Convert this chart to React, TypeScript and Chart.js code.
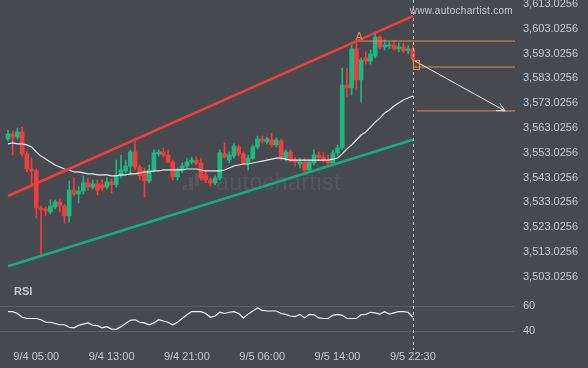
import React, { useEffect, useRef } from 'react';
import { Chart, registerables } from 'chart.js';

Chart.register(...registerables);

// ---- data ----
const opens = [
  3558.6, 3560.6, 3559.4, 3561.4, 3552.6, 3546.5, 3545.7, 3530.8, 3530.4, 3529.2,
  3531.2, 3533.2, 3531.6, 3527.6, 3538.0, 3536.4, 3537.6, 3540.9, 3539.2, 3540.5,
  3540.1, 3539.2, 3541.3, 3540.1, 3543.7, 3545.7, 3547.7, 3553.4, 3547.3, 3545.3,
  3541.7, 3546.1, 3552.6, 3553.4, 3552.1, 3549.3, 3543.3, 3546.1, 3547.7, 3549.3,
  3550.1, 3548.9, 3544.1, 3542.1, 3540.9, 3542.9, 3552.6, 3550.1, 3551.7, 3555.4,
  3552.6, 3548.9, 3550.9, 3555.4, 3558.6, 3557.4, 3558.2, 3556.2, 3557.8, 3550.9,
  3553.4, 3550.1, 3548.5, 3549.3, 3546.1, 3548.9, 3552.1, 3551.3, 3550.1, 3548.9,
  3553.0, 3555.0, 3580.4, 3579.2, 3594.9, 3582.4, 3591.3, 3590.0, 3592.1, 3599.7,
  3595.7, 3596.1, 3596.5, 3594.9, 3595.7, 3594.1, 3594.9,
];
const highs = [
  3562.2, 3561.8, 3563.0, 3563.4, 3553.4, 3550.9, 3546.5, 3531.6, 3531.2, 3534.0,
  3534.0, 3534.4, 3532.4, 3541.7, 3542.9, 3539.6, 3543.7, 3542.9, 3542.1, 3542.1,
  3542.1, 3542.9, 3542.5, 3550.1, 3552.1, 3550.1, 3554.2, 3559.0, 3548.1, 3546.9,
  3548.1, 3554.2, 3554.2, 3555.0, 3554.2, 3550.1, 3546.9, 3548.9, 3550.9, 3551.3,
  3551.3, 3550.9, 3546.1, 3542.9, 3543.7, 3554.2, 3557.0, 3553.4, 3556.6, 3556.2,
  3553.4, 3552.1, 3556.2, 3559.8, 3559.8, 3559.4, 3561.0, 3559.0, 3558.6, 3554.2,
  3554.2, 3551.3, 3550.9, 3550.9, 3550.1, 3554.2, 3553.4, 3553.0, 3552.1, 3554.2,
  3556.2, 3587.2, 3587.2, 3596.5, 3598.1, 3591.3, 3593.7, 3594.5, 3600.9, 3600.1,
  3598.5, 3597.7, 3598.5, 3597.3, 3597.3, 3596.1, 3596.1,
];
const lows = [
  3557.8, 3552.1, 3558.6, 3551.7, 3545.3, 3540.0, 3526.7, 3511.0, 3527.6, 3528.4,
  3530.4, 3529.2, 3524.7, 3525.1, 3535.6, 3532.8, 3536.4, 3538.0, 3538.4, 3536.0,
  3538.0, 3538.4, 3536.8, 3539.2, 3542.9, 3544.9, 3544.1, 3546.1, 3542.1, 3535.2,
  3540.9, 3545.3, 3551.7, 3551.3, 3548.9, 3542.1, 3542.1, 3544.9, 3546.9, 3548.5,
  3548.1, 3542.1, 3540.9, 3539.6, 3540.1, 3542.1, 3550.9, 3548.9, 3550.9, 3551.7,
  3548.1, 3546.1, 3550.1, 3554.6, 3557.0, 3556.6, 3555.4, 3555.4, 3550.1, 3549.7,
  3549.3, 3547.7, 3546.9, 3545.3, 3545.3, 3548.1, 3550.1, 3549.3, 3548.1, 3547.7,
  3552.1, 3554.2, 3575.5, 3576.3, 3578.4, 3573.5, 3588.8, 3588.8, 3591.3, 3594.9,
  3594.5, 3594.9, 3594.5, 3593.7, 3593.3, 3592.9, 3589.6,
];
const closes = [
  3560.6, 3559.4, 3561.4, 3552.6, 3546.5, 3545.7, 3530.8, 3530.0, 3529.6, 3531.6,
  3533.2, 3531.6, 3527.6, 3538.0, 3536.4, 3537.6, 3540.9, 3539.2, 3540.5, 3538.0,
  3538.8, 3541.3, 3540.1, 3543.7, 3546.1, 3547.7, 3553.4, 3547.3, 3543.7, 3541.7,
  3546.1, 3553.0, 3553.4, 3552.1, 3549.3, 3543.3, 3546.1, 3547.7, 3549.3, 3550.1,
  3548.9, 3542.9, 3542.1, 3540.9, 3542.9, 3553.0, 3551.3, 3552.1, 3555.8, 3552.6,
  3548.9, 3550.9, 3555.4, 3558.6, 3557.8, 3558.6, 3556.2, 3558.2, 3551.3, 3553.4,
  3550.1, 3549.3, 3549.3, 3546.1, 3549.3, 3552.1, 3551.3, 3550.1, 3548.9, 3553.0,
  3555.0, 3580.4, 3579.2, 3594.9, 3582.4, 3590.5, 3590.0, 3592.9, 3599.7, 3595.7,
  3596.5, 3596.5, 3594.9, 3595.7, 3594.1, 3594.9, 3590.9,
];
const maValues = [
  3556.6, 3557.0, 3556.6, 3556.6, 3556.2, 3555.4, 3553.4, 3551.7, 3550.5, 3549.3,
  3548.1, 3547.3, 3546.5, 3546.1, 3545.3, 3545.3, 3544.9, 3544.5, 3544.5, 3544.1,
  3544.1, 3544.1, 3543.7, 3543.7, 3544.1, 3544.1, 3544.5, 3544.5, 3544.9, 3545.3,
  3545.3, 3545.7, 3545.7, 3546.1, 3546.1, 3546.1, 3546.1, 3546.1, 3546.5, 3546.5,
  3546.5, 3546.1, 3545.7, 3545.7, 3545.7, 3545.7, 3546.1, 3546.9, 3547.7, 3548.1,
  3548.5, 3548.5, 3548.9, 3549.3, 3549.7, 3550.1, 3550.5, 3550.9, 3550.9, 3550.5,
  3550.1, 3550.1, 3550.1, 3550.1, 3550.1, 3550.1, 3550.1, 3550.1, 3550.1, 3550.5,
  3550.9, 3552.6, 3554.6, 3556.2, 3558.2, 3560.2, 3561.4, 3563.4, 3565.4, 3567.0,
  3569.1, 3570.3, 3571.9, 3573.1, 3574.3, 3575.1, 3575.9,
];
const rsiValues = [
  55.5, 55.5, 54, 51, 50, 50, 50, 49, 47, 47,
  46, 45, 45, 43, 42.5, 44.5, 45.5, 46.5, 44.7, 44.3,
  42.5, 43.5, 41.5, 41.3, 43.5, 46, 48.5, 49, 47, 46.5,
  45, 46.5, 49, 48, 47, 45, 47, 50, 53, 55.5,
  55.5, 55.5, 54, 51, 52, 55, 54, 55, 55.5, 54,
  50.5, 53.5, 56, 58.5, 56.5, 56, 56, 56, 54, 53.3,
  52, 51.5, 53.3, 50.5, 53.3, 53, 50.5, 50, 50, 52.5,
  53.3, 52.5, 50, 50, 50, 53, 53.3, 55, 54.5, 53.5,
  55.5, 53.5, 54.5, 55.5, 55.5, 55, 51,
];
const priceTicks = [
  3503.0256, 3513.0256, 3523.0256, 3533.0256, 3543.0256, 3553.0256,
  3563.0256, 3573.0256, 3583.0256, 3593.0256, 3603.0256, 3613.0256,
];
const rsiTicks = [40, 60];
const timeLabels = ['9/4 05:00', '9/4 13:00', '9/4 21:00', '9/5 06:00', '9/5 14:00', '9/5 22:30'];
const timeLabelIndex = [6, 22, 38, 54, 70, 86];
const resistanceLine = [{ x: 0, y: 3535.6 }, { x: 86, y: 3608.1 }];
const supportLine = [{ x: 0, y: 3507.3 }, { x: 86, y: 3558.3 }];
const levelTop = 3598.1;
const levelMid = 3587.6;
const levelLow = 3569.9;
const levelTopStart = 74;
const levelMidStart = 86;
const levelLowStart = 86.8;
const forecastPath = [{ x: 86, y: 3590.5 }, { x: 105.6, y: 3569.9 }];
const markerBox = { x0: 86, x1: 87.3, y0: 3590.5, y1: 3586.8 };
const pointA = { x: 74.6, y: 3598.1 };
const lastIndex = 86;

// ---- layout / style ----
const X_MIN = -1.7;
const X_MAX = 107.7;
const P_MIN = 3497.7;
const P_MAX = 3614.64;
const R_MIN = 28.8;
const R_MAX = 72.8;
const BG = '#464a4f';
const TEXT = '#c8cacc';
const GREEN = '#1cb884';
const RED = '#f03d3d';
const ORANGE = '#e98a4f';
const FONT = '"Liberation Sans", Arial, sans-serif';

const fmt = (v: number) =>
  v.toLocaleString('en-US', { minimumFractionDigits: 4, maximumFractionDigits: 4 });

const deco = {
  id: 'deco',
  beforeDraw(chart: any) {
    const { ctx, width, height } = chart;
    ctx.save();
    ctx.fillStyle = BG;
    ctx.fillRect(0, 0, width, height);
    ctx.restore();
  },
  beforeDatasetsDraw(chart: any) {
    const { ctx } = chart;
    ctx.save();
    ctx.fillStyle = 'rgba(255,255,255,0.075)';
    const bars = [
      [183, 185, 190],
      [189, 177, 190],
      [195, 173, 186],
      [201, 170, 181],
    ];
    bars.forEach(([x, t, b]) => {
      ctx.fillRect(x, t, 4, b - t);
    });
    ctx.font = '23px ' + FONT;
    (ctx as any).letterSpacing = '0.5px';
    ctx.textBaseline = 'alphabetic';
    ctx.textAlign = 'left';
    ctx.fillText('autochartist', 216, 190);
    ctx.restore();
  },
  afterDatasetsDraw(chart: any) {
    const { ctx, scales } = chart;
    const xs = scales.x;
    const ys = scales.y;
    ctx.save();
    const xl = Math.round(xs.getPixelForValue(lastIndex)) + 0.5;
    ctx.strokeStyle = '#cfd1d3';
    ctx.lineWidth = 1;
    ctx.setLineDash([3, 3]);
    ctx.beginPath();
    ctx.moveTo(xl, 0);
    ctx.lineTo(xl, 350);
    ctx.stroke();
    ctx.setLineDash([]);

    const p1 = forecastPath[0];
    const p2 = forecastPath[1];
    const x1 = xs.getPixelForValue(p1.x), y1 = ys.getPixelForValue(p1.y);
    const x2 = xs.getPixelForValue(p2.x), y2 = ys.getPixelForValue(p2.y);
    const ang = Math.atan2(y2 - y1, x2 - x1);
    const L = 9;
    ctx.strokeStyle = '#f0f0f0';
    ctx.lineWidth = 1;
    ctx.beginPath();
    ctx.moveTo(x2 - L * Math.cos(ang - 0.45), y2 - L * Math.sin(ang - 0.45));
    ctx.lineTo(x2, y2);
    ctx.lineTo(x2 - L * Math.cos(ang + 0.45), y2 - L * Math.sin(ang + 0.45));
    ctx.stroke();

    const bx0 = xs.getPixelForValue(markerBox.x0);
    const bx1 = xs.getPixelForValue(markerBox.x1);
    const by0 = ys.getPixelForValue(markerBox.y0);
    const by1 = ys.getPixelForValue(markerBox.y1);
    ctx.strokeStyle = ORANGE;
    ctx.strokeRect(Math.round(bx0) + 0.5, Math.round(by0) + 0.5, Math.round(bx1 - bx0), Math.round(by1 - by0));

    ctx.fillStyle = ORANGE;
    ctx.font = '11px ' + FONT;
    ctx.textAlign = 'center';
    ctx.textBaseline = 'bottom';
    ctx.fillText('A', xs.getPixelForValue(pointA.x), ys.getPixelForValue(pointA.y) + 1);

    ctx.fillStyle = TEXT;
    ctx.font = 'bold 11px ' + FONT;
    ctx.textAlign = 'left';
    ctx.textBaseline = 'middle';
    ctx.fillText('RSI', 14, 292);
    ctx.font = '10px ' + FONT;
    (ctx as any).letterSpacing = '0.3px';
    ctx.textAlign = 'right';
    ctx.fillText('www.autochartist.com', 513, 11);
    ctx.restore();
  },
};

export default function App() {
  const ref = useRef<HTMLCanvasElement>(null);
  useEffect(() => {
    document.body.style.margin = '0';
    const canvas = ref.current!;
    const idx = opens.map((_, i) => i);
    const colors = idx.map((i) => (closes[i] >= opens[i] ? GREEN : RED));
    const hline = (start: number, v: number) => [
      { x: start, y: v },
      { x: X_MAX, y: v },
    ];
    const lineDs = (data: any[], color: string, width: number, order: number, axis = 'y') => ({
      type: 'line' as const,
      data,
      borderColor: color,
      borderWidth: width,
      pointRadius: 0,
      tension: 0,
      fill: false,
      yAxisID: axis,
      order,
    });
    const chart = new Chart(canvas, {
      type: 'bar',
      data: {
        datasets: [
          {
            type: 'bar',
            data: idx.map((i) => ({ x: i, y: [lows[i], highs[i]] })) as any,
            backgroundColor: colors,
            barThickness: 1,
            grouped: false,
            yAxisID: 'y',
            order: 10,
          },
          {
            type: 'bar',
            data: idx.map((i) => ({ x: i, y: [opens[i], closes[i]] })) as any,
            backgroundColor: colors,
            barThickness: 4,
            minBarLength: 1,
            grouped: false,
            yAxisID: 'y',
            order: 9,
          },
          lineDs(idx.map((i) => ({ x: i, y: maValues[i] })), '#e9e9e9', 1.2, 3),
          lineDs(resistanceLine, RED, 2.5, 2),
          lineDs(supportLine, '#17ad7d', 2.5, 2),
          lineDs(hline(levelTopStart, levelTop), ORANGE, 1, 2),
          lineDs(hline(levelMidStart, levelMid), ORANGE, 1, 2),
          lineDs(hline(levelLowStart, levelLow), ORANGE, 1, 2),
          lineDs(forecastPath, '#f0f0f0', 1, 1),
          lineDs(idx.map((i) => ({ x: i, y: rsiValues[i] })), '#f2f2f2', 1.2, 1, 'yR'),
        ] as any,
      },
      options: {
        animation: false,
        responsive: false,
        devicePixelRatio: 1,
        layout: { padding: 0, autoPadding: false } as any,
        plugins: { legend: { display: false }, tooltip: { enabled: false } },
        scales: {
          x: {
            type: 'linear',
            offset: false,
            min: X_MIN,
            max: X_MAX,
            grid: { display: false, drawTicks: false },
            border: { display: false },
            afterBuildTicks: (s: any) => {
              s.ticks = timeLabelIndex.map((v) => ({ value: v }));
            },
            afterFit: (s: any) => {
              s.height = 23;
              s.paddingLeft = 0;
              s.paddingRight = 0;
            },
            ticks: {
              color: TEXT,
              font: { family: FONT, size: 11 },
              padding: 5,
              maxRotation: 0,
              autoSkip: false,
              callback: (v: any) => {
                const k = timeLabelIndex.indexOf(Number(v));
                return k >= 0 ? timeLabels[k] : '';
              },
            },
          },
          y: {
            type: 'linear',
            position: 'right',
            stack: 'v',
            stackWeight: 290,
            min: P_MIN,
            max: P_MAX,
            grid: { display: false, drawTicks: false },
            border: { display: false },
            afterBuildTicks: (s: any) => {
              s.ticks = priceTicks.map((v) => ({ value: v }));
            },
            afterFit: (s: any) => {
              s.width = 73;
              s.paddingTop = 0;
              s.paddingBottom = 0;
            },
            ticks: {
              color: TEXT,
              font: { family: FONT, size: 11 },
              padding: 8,
              autoSkip: false,
              callback: (v: any) => fmt(Number(v)),
            },
          },
          yR: {
            type: 'linear',
            position: 'right',
            stack: 'v',
            stackWeight: 55,
            min: R_MIN,
            max: R_MAX,
            grid: { color: '#5c6065', drawTicks: false },
            border: { display: false },
            afterBuildTicks: (s: any) => {
              s.ticks = rsiTicks.map((v) => ({ value: v }));
            },
            afterFit: (s: any) => {
              s.width = 73;
              s.paddingTop = 0;
              s.paddingBottom = 0;
            },
            ticks: {
              color: TEXT,
              font: { family: FONT, size: 11 },
              padding: 8,
              autoSkip: false,
            },
          },
        } as any,
      },
      plugins: [deco],
    });
    return () => chart.destroy();
  }, []);
  return (
    <div style={{ width: 588, height: 368 }}>
      <canvas ref={ref} width={588} height={368} style={{ display: 'block' }} />
    </div>
  );
}
